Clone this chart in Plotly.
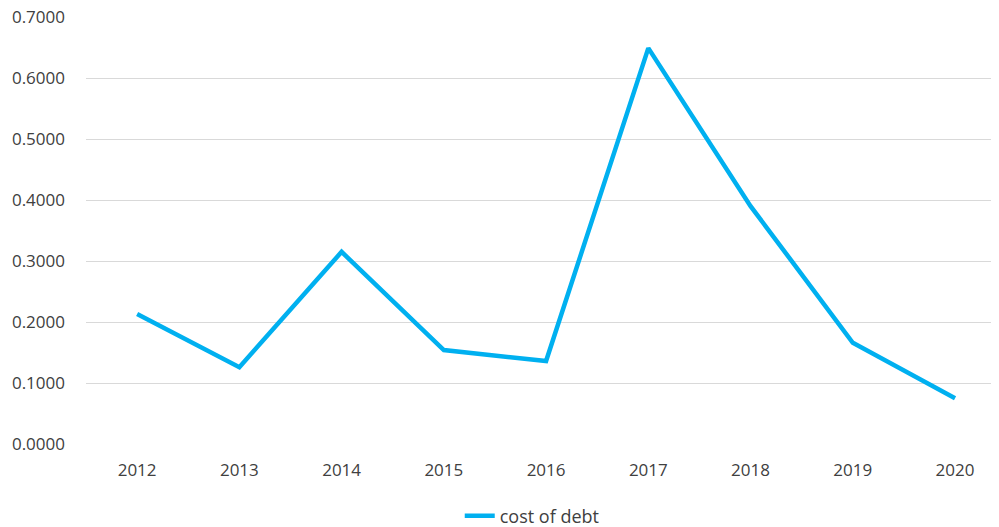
import plotly.graph_objects as go

years = ["2012", "2013", "2014", "2015", "2016", "2017", "2018", "2019", "2020"]
cost_of_debt = [0.213, 0.126, 0.315, 0.154, 0.136, 0.649, 0.390, 0.166, 0.075]
y_ticks = [0.0, 0.1, 0.2, 0.3, 0.4, 0.5, 0.6, 0.7]
y_tick_labels = ["0.0000", "0.1000", "0.2000", "0.3000", "0.4000", "0.5000", "0.6000", "0.7000"]

W, H = 991, 519

fig = go.Figure()
fig.add_trace(go.Scatter(
    x=list(range(len(years))), y=cost_of_debt, mode="lines", name="cost of debt",
    line=dict(color="#00B0F0", width=4.5), cliponaxis=False,
))

fig.update_layout(
    width=W, height=H,
    margin=dict(l=78, r=0, t=9, b=83, autoexpand=False),
    paper_bgcolor="white", plot_bgcolor="white",
    font=dict(family="Open Sans", size=17, color="#404040"),
    showlegend=True,
    legend=dict(orientation="h", x=0.529, xanchor="center", xref="container",
                y=11 / H, yanchor="middle", yref="container",
                font=dict(size=18, color="#404040")),
    xaxis=dict(tickmode="array", tickvals=list(range(len(years))), ticktext=years,
               range=[-0.5, 8.43], showgrid=False, zeroline=False, showline=False,
               ticks="", ticklabelstandoff=14, automargin=False),
    yaxis=dict(range=[0, 0.7], tickvals=y_ticks, ticktext=y_tick_labels,
               showgrid=True, gridcolor="#D9D9D9", gridwidth=1, zeroline=False,
               showline=False, ticks="", ticklabelstandoff=20, automargin=False,
               ticklabeloverflow="allow"),
)

fig.write_html("out.html")
